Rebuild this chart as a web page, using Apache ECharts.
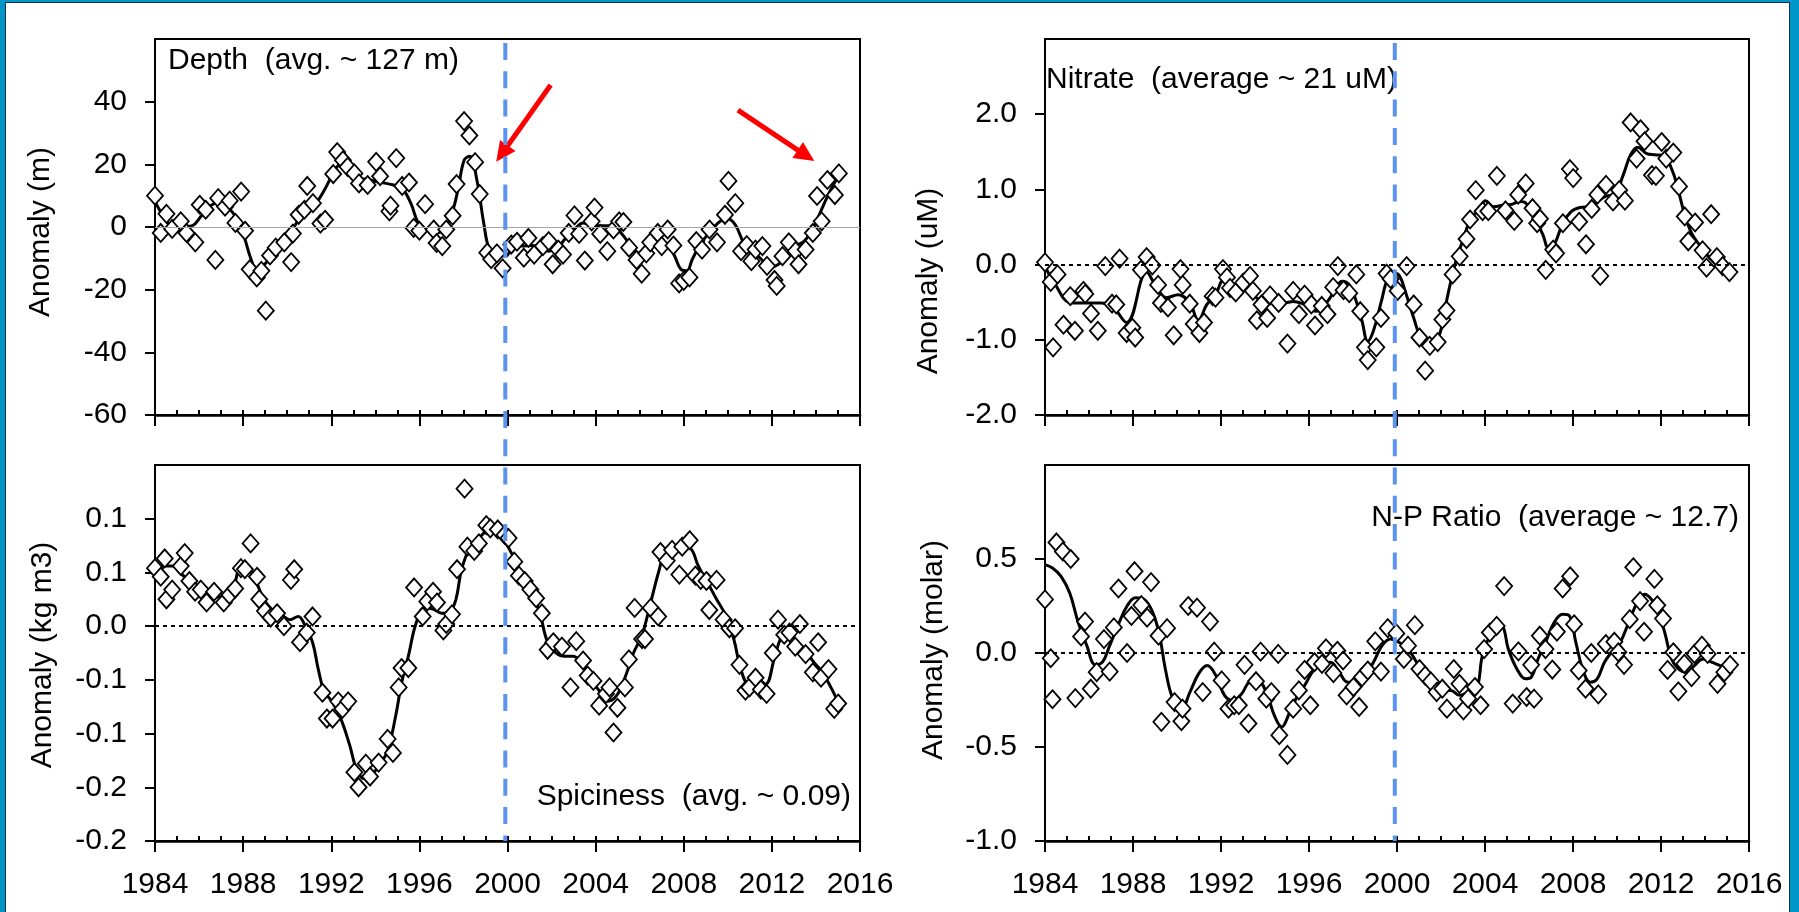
<!DOCTYPE html>
<html>
<head>
<meta charset="utf-8">
<script src="https://cdn.jsdelivr.net/npm/echarts@6/dist/echarts.min.js"></script>
<style>
  html, body { margin: 0; padding: 0; background: #fff; }
  #chart { position: absolute; left: 0; top: 0; width: 1799px; height: 912px; }
  #frame { position: absolute; left: 0; top: 0; width: 1799px; height: 912px; box-sizing: border-box;
           border-style: solid; border-color: #0096c8; border-width: 2px 9px 0 5px; pointer-events: none; }
  #frame div { position: absolute; left: 0; top: 0; right: 0; bottom: 0; border: 1px solid #17324a; border-bottom: none; }
</style>
</head>
<body>
<div id="chart"></div>
<div id="frame"><div></div></div>
<script>
// Quarterly anomalies (diamonds) and smoothed series (line), [year, anomaly]
const depthObs = [[1984.00,10.0],[1984.26,-1.9],[1984.52,4.2],[1984.78,-0.6],[1985.17,1.8],[1985.43,-1.9],[1985.83,-4.9],[1986.03,7.1],[1986.30,5.5],[1986.74,-10.5],[1986.87,9.2],[1987.18,6.5],[1987.39,8.4],[1987.65,1.3],[1987.91,11.3],[1988.09,-1.2],[1988.30,-13.5],[1988.62,-16.1],[1988.83,-14.0],[1989.03,-26.7],[1989.22,-9.1],[1989.48,-6.6],[1989.87,-4.9],[1990.18,-11.2],[1990.26,-2.1],[1990.52,3.9],[1990.78,5.5],[1990.91,13.1],[1991.17,7.6],[1991.51,1.1],[1991.72,2.3],[1992.09,16.9],[1992.27,23.9],[1992.53,21.3],[1992.74,19.2],[1993.05,17.1],[1993.26,13.9],[1993.65,13.4],[1994.04,20.8],[1994.22,16.2],[1994.64,5.0],[1994.69,6.8],[1994.95,22.0],[1995.22,13.1],[1995.53,14.2],[1995.74,-0.3],[1996.00,-1.2],[1996.26,7.3],[1996.65,-0.8],[1996.78,-5.1],[1997.04,-6.1],[1997.22,-0.8],[1997.51,3.6],[1997.69,13.7],[1998.03,33.8],[1998.27,29.2],[1998.53,20.7],[1998.74,10.5],[1999.08,-8.2],[1999.26,-10.3],[1999.52,-8.4],[1999.78,-13.2],[2000.17,-5.6],[2000.43,-4.7],[2000.74,-9.8],[2000.95,-3.5],[2001.21,-8.8],[2001.61,-6.1],[2001.87,-4.5],[2002.05,-11.9],[2002.31,-7.2],[2002.52,-8.8],[2002.78,-1.9],[2003.04,3.7],[2003.25,-2.2],[2003.51,-10.7],[2003.82,1.8],[2003.95,6.2],[2004.21,-2.2],[2004.53,-7.7],[2004.81,-0.8],[2005.07,1.8],[2005.26,1.6],[2005.52,-6.6],[2005.86,-10.5],[2006.09,-14.9],[2006.30,-8.4],[2006.48,-4.9],[2006.82,-1.9],[2007.00,-6.1],[2007.27,-0.8],[2007.53,-5.9],[2007.79,-18.0],[2008.00,-17.2],[2008.26,-16.1],[2008.57,-4.5],[2008.83,-7.2],[2009.17,-0.8],[2009.51,-4.9],[2009.87,3.9],[2010.03,14.7],[2010.34,7.6],[2010.60,-7.7],[2010.86,-5.8],[2011.07,-10.9],[2011.26,-7.2],[2011.57,-6.1],[2011.78,-12.4],[2012.12,-16.9],[2012.22,-18.8],[2012.48,-9.3],[2012.77,-4.9],[2013.08,-7.7],[2013.21,-11.9],[2013.53,-7.2],[2013.86,-1.9],[2014.05,9.9],[2014.26,1.8],[2014.52,15.0],[2014.86,10.2],[2015.04,17.1]];

const depthSmooth = [[1984.00,8.1],[1984.39,3.4],[1984.78,0.2],[1985.30,0.0],[1985.70,0.4],[1986.09,3.4],[1986.48,6.5],[1986.87,7.8],[1987.26,6.5],[1987.65,3.4],[1988.04,-3.0],[1988.36,-10.3],[1988.62,-13.5],[1988.96,-12.0],[1989.35,-8.8],[1989.74,-5.1],[1990.13,-1.9],[1990.52,2.3],[1990.91,5.5],[1991.30,7.6],[1991.69,11.8],[1992.09,17.1],[1992.48,20.5],[1992.87,17.1],[1993.26,15.5],[1993.65,15.2],[1994.04,14.5],[1994.43,14.0],[1994.82,13.4],[1995.22,12.3],[1995.61,7.6],[1995.95,1.3],[1996.31,-0.8],[1996.70,-1.9],[1997.04,-1.2],[1997.43,3.4],[1997.75,11.8],[1998.03,21.3],[1998.29,22.6],[1998.61,15.0],[1998.92,1.3],[1999.18,-7.2],[1999.52,-8.8],[1999.91,-9.3],[2000.30,-5.9],[2000.69,-6.1],[2001.08,-5.9],[2001.48,-6.6],[2001.87,-7.7],[2002.26,-6.6],[2002.65,-3.5],[2003.04,-0.8],[2003.43,1.3],[2003.82,0.5],[2004.21,0.4],[2004.60,0.4],[2005.00,-0.8],[2005.39,-4.0],[2005.78,-7.7],[2006.17,-8.8],[2006.56,-6.6],[2006.95,-5.3],[2007.34,-6.1],[2007.60,-9.5],[2007.87,-13.5],[2008.13,-14.0],[2008.39,-10.3],[2008.78,-5.1],[2009.17,-1.9],[2009.56,1.3],[2009.95,2.8],[2010.34,0.7],[2010.73,-5.1],[2011.13,-7.7],[2011.52,-10.3],[2011.91,-13.0],[2012.30,-11.9],[2012.69,-9.3],[2013.08,-6.1],[2013.47,-4.5],[2013.86,-0.8],[2014.12,3.4],[2014.52,9.7],[2014.91,15.0]];

const nitrateObs = [[1984.00,0.03],[1984.26,-0.23],[1984.37,-1.10],[1984.57,-0.13],[1984.84,-0.80],[1985.15,-0.42],[1985.36,-0.88],[1985.75,-0.35],[1985.83,-0.39],[1986.09,-0.65],[1986.40,-0.88],[1986.74,-0.02],[1987.05,-0.52],[1987.24,-0.53],[1987.39,0.08],[1987.71,-0.91],[1987.97,-0.84],[1988.10,-0.97],[1988.36,-0.07],[1988.62,0.10],[1988.88,-0.01],[1989.14,-0.27],[1989.27,-0.51],[1989.59,-0.57],[1989.85,-0.94],[1990.16,-0.06],[1990.26,-0.27],[1990.58,-0.52],[1990.76,-0.79],[1991.02,-0.91],[1991.23,-0.77],[1991.62,-0.42],[1991.75,-0.44],[1992.09,-0.06],[1992.27,-0.17],[1992.41,-0.31],[1992.67,-0.37],[1993.01,-0.24],[1993.32,-0.15],[1993.45,-0.35],[1993.63,-0.74],[1993.84,-0.53],[1994.10,-0.71],[1994.23,-0.41],[1994.62,-0.51],[1995.02,-1.05],[1995.28,-0.35],[1995.54,-0.66],[1995.80,-0.40],[1996.11,-0.53],[1996.27,-0.81],[1996.58,-0.55],[1996.84,-0.66],[1997.10,-0.30],[1997.31,-0.02],[1997.57,-0.34],[1997.83,-0.38],[1998.15,-0.13],[1998.33,-0.62],[1998.54,-1.10],[1998.67,-1.27],[1999.06,-1.10],[1999.27,-0.71],[1999.53,-0.12],[1999.71,-0.19],[2000.03,-0.35],[2000.44,-0.02],[2000.76,-0.53],[2001.02,-0.97],[2001.28,-1.41],[2001.49,-1.08],[2001.85,-1.03],[2002.06,-0.73],[2002.25,-0.61],[2002.53,-0.13],[2002.85,0.11],[2003.16,0.34],[2003.32,0.60],[2003.58,0.99],[2003.89,0.71],[2004.15,0.71],[2004.54,1.18],[2004.93,0.72],[2005.33,0.58],[2005.51,0.93],[2005.85,1.08],[2006.16,0.75],[2006.37,0.55],[2006.50,0.61],[2006.76,-0.07],[2007.10,0.20],[2007.23,0.15],[2007.54,0.55],[2007.86,1.27],[2008.01,1.15],[2008.28,0.57],[2008.59,0.27],[2008.85,0.74],[2009.11,0.93],[2009.24,-0.15],[2009.50,1.06],[2009.82,0.84],[2010.10,0.99],[2010.36,0.85],[2010.62,1.89],[2010.89,1.41],[2011.07,1.80],[2011.25,1.64],[2011.59,1.19],[2011.77,1.18],[2012.03,1.63],[2012.24,1.41],[2012.56,1.49],[2012.82,1.04],[2013.08,0.64],[2013.24,0.31],[2013.55,0.56],[2013.89,0.19],[2014.07,-0.04],[2014.28,0.67],[2014.54,0.10],[2014.80,-0.02],[2015.11,-0.10]];

const nitrateSmooth = [[1984.05,-0.05],[1984.37,-0.22],[1985.23,-0.51],[1986.53,-0.51],[1987.05,-0.55],[1987.71,-0.77],[1988.62,-0.10],[1989.01,-0.27],[1989.53,-0.44],[1990.06,-0.40],[1990.58,-0.51],[1990.97,-0.74],[1991.36,-0.53],[1991.75,-0.40],[1992.14,-0.20],[1992.54,-0.27],[1992.93,-0.31],[1993.32,-0.37],[1993.71,-0.46],[1994.10,-0.49],[1994.49,-0.44],[1994.88,-0.51],[1995.28,-0.49],[1995.80,-0.53],[1996.32,-0.62],[1996.84,-0.49],[1997.23,-0.31],[1997.50,-0.22],[1997.83,-0.27],[1998.15,-0.49],[1998.41,-0.75],[1998.67,-1.02],[1998.93,-0.88],[1999.27,-0.51],[1999.58,-0.18],[1999.84,-0.11],[2000.11,-0.15],[2000.37,-0.35],[2000.76,-0.71],[2001.15,-1.02],[2001.54,-1.10],[2001.93,-0.93],[2002.19,-0.57],[2002.45,-0.22],[2002.72,0.09],[2002.98,0.31],[2003.37,0.62],[2003.76,0.73],[2004.02,0.85],[2004.41,0.77],[2004.80,0.79],[2005.20,0.80],[2005.59,0.84],[2005.85,0.82],[2006.24,0.63],[2006.63,0.40],[2006.89,0.22],[2007.15,0.27],[2007.54,0.55],[2007.94,0.71],[2008.33,0.76],[2008.72,0.77],[2009.11,0.84],[2009.50,0.91],[2009.89,0.93],[2010.28,1.19],[2010.62,1.46],[2010.94,1.56],[2011.33,1.48],[2011.72,1.46],[2012.11,1.45],[2012.50,1.26],[2012.76,1.02],[2013.08,0.66],[2013.42,0.40],[2013.81,0.24],[2014.20,0.09],[2014.59,-0.02],[2014.98,-0.09]];

const spiceObs = [[1984.00,0.054],[1984.26,0.046],[1984.44,0.063],[1984.52,0.025],[1984.78,0.034],[1985.17,0.056],[1985.35,0.068],[1985.56,0.042],[1985.82,0.032],[1986.08,0.034],[1986.34,0.022],[1986.68,0.032],[1987.12,0.022],[1987.38,0.029],[1987.64,0.035],[1987.90,0.054],[1988.08,0.053],[1988.34,0.077],[1988.63,0.046],[1988.73,0.025],[1988.99,0.014],[1989.25,0.008],[1989.54,0.012],[1989.85,0.000],[1990.17,0.043],[1990.32,0.053],[1990.58,-0.015],[1990.89,-0.006],[1991.15,0.009],[1991.60,-0.062],[1991.80,-0.086],[1992.06,-0.086],[1992.32,-0.070],[1992.51,-0.077],[1992.77,-0.070],[1993.05,-0.136],[1993.24,-0.150],[1993.57,-0.128],[1993.76,-0.140],[1994.15,-0.127],[1994.56,-0.105],[1994.80,-0.118],[1995.06,-0.057],[1995.19,-0.039],[1995.50,-0.039],[1995.76,0.036],[1996.15,0.009],[1996.36,0.023],[1996.62,0.032],[1996.80,0.022],[1997.09,-0.004],[1997.22,0.002],[1997.48,0.011],[1997.71,0.053],[1998.05,0.128],[1998.18,0.074],[1998.49,0.070],[1998.70,0.077],[1999.04,0.094],[1999.22,0.091],[1999.56,0.090],[1999.87,0.085],[2000.05,0.082],[2000.31,0.060],[2000.52,0.047],[2000.78,0.042],[2001.04,0.034],[2001.30,0.026],[2001.56,0.012],[2001.82,-0.022],[2002.08,-0.015],[2002.47,-0.019],[2002.86,-0.057],[2003.12,-0.014],[2003.43,-0.032],[2003.64,-0.046],[2003.90,-0.051],[2004.16,-0.074],[2004.47,-0.063],[2004.63,-0.057],[2004.81,-0.099],[2004.99,-0.076],[2005.33,-0.057],[2005.51,-0.031],[2005.77,0.017],[2006.11,-0.012],[2006.24,-0.012],[2006.50,0.017],[2006.84,0.009],[2006.94,0.069],[2007.23,0.061],[2007.47,0.071],[2007.80,0.048],[2007.93,0.074],[2008.27,0.080],[2008.53,0.047],[2008.77,0.043],[2009.03,0.042],[2009.16,0.015],[2009.49,0.043],[2009.81,0.006],[2010.07,-0.002],[2010.33,-0.002],[2010.53,-0.036],[2010.80,-0.060],[2010.98,-0.057],[2011.26,-0.048],[2011.50,-0.059],[2011.76,-0.063],[2012.04,-0.025],[2012.28,0.006],[2012.56,-0.008],[2012.80,-0.006],[2013.06,-0.019],[2013.27,0.002],[2013.53,-0.026],[2013.86,-0.043],[2014.10,-0.015],[2014.23,-0.048],[2014.57,-0.040],[2014.83,-0.077],[2015.01,-0.072]];

const spiceSmooth = [[1984.00,0.053],[1984.39,0.056],[1984.78,0.056],[1985.17,0.049],[1985.56,0.042],[1985.95,0.034],[1986.34,0.028],[1986.73,0.027],[1987.12,0.028],[1987.51,0.034],[1987.90,0.054],[1988.16,0.054],[1988.55,0.043],[1988.94,0.025],[1989.33,0.015],[1989.72,0.011],[1990.11,0.006],[1990.50,0.009],[1990.82,0.000],[1991.15,-0.015],[1991.41,-0.040],[1991.67,-0.060],[1992.06,-0.071],[1992.45,-0.087],[1992.84,-0.111],[1993.16,-0.134],[1993.50,-0.142],[1993.83,-0.139],[1994.15,-0.130],[1994.54,-0.117],[1994.93,-0.083],[1995.19,-0.053],[1995.50,-0.028],[1995.84,0.002],[1996.23,0.017],[1996.62,0.016],[1997.01,0.012],[1997.40,0.014],[1997.66,0.025],[1997.92,0.053],[1998.31,0.074],[1998.70,0.082],[1999.09,0.088],[1999.48,0.088],[1999.87,0.079],[2000.26,0.065],[2000.65,0.046],[2001.04,0.032],[2001.43,0.015],[2001.82,-0.015],[2002.21,-0.025],[2002.60,-0.028],[2002.99,-0.028],[2003.38,-0.036],[2003.77,-0.049],[2004.16,-0.060],[2004.55,-0.070],[2004.94,-0.065],[2005.33,-0.048],[2005.72,-0.025],[2006.11,-0.008],[2006.50,0.022],[2006.84,0.049],[2007.15,0.068],[2007.54,0.073],[2007.93,0.074],[2008.32,0.072],[2008.66,0.056],[2009.10,0.040],[2009.49,0.025],[2009.88,0.011],[2010.27,-0.012],[2010.59,-0.040],[2010.93,-0.053],[2011.32,-0.049],[2011.71,-0.054],[2012.10,-0.031],[2012.41,-0.011],[2012.75,-0.005],[2013.14,-0.015],[2013.53,-0.023],[2013.92,-0.034],[2014.29,-0.043],[2014.68,-0.057],[2015.01,-0.071]];

const npObs = [[1984.00,0.285],[1984.26,-0.028],[1984.34,-0.246],[1984.52,0.588],[1984.81,0.540],[1985.17,0.500],[1985.38,-0.240],[1985.64,0.088],[1985.82,0.167],[1986.08,-0.190],[1986.35,-0.102],[1986.68,0.074],[1986.94,-0.099],[1987.13,0.136],[1987.34,0.343],[1987.73,0.000],[1987.93,0.197],[1988.07,0.435],[1988.38,0.255],[1988.64,0.188],[1988.82,0.377],[1989.16,0.092],[1989.29,-0.366],[1989.55,0.132],[1989.89,-0.261],[1990.20,-0.363],[1990.25,-0.296],[1990.51,0.250],[1990.91,0.241],[1991.17,-0.208],[1991.50,0.167],[1991.69,0.007],[1992.03,-0.146],[1992.34,-0.296],[1992.60,-0.278],[1992.81,-0.278],[1993.07,-0.063],[1993.25,-0.375],[1993.59,-0.150],[1993.80,0.007],[1994.06,-0.243],[1994.29,-0.208],[1994.60,-0.005],[1994.65,-0.437],[1995.02,-0.542],[1995.28,-0.296],[1995.54,-0.199],[1995.80,-0.090],[1996.06,-0.278],[1996.25,-0.049],[1996.59,-0.058],[1996.77,0.025],[1997.11,-0.107],[1997.29,0.012],[1997.55,-0.040],[1997.71,-0.225],[1998.02,-0.181],[1998.28,-0.287],[1998.41,-0.128],[1998.67,-0.093],[1999.01,0.062],[1999.27,-0.099],[1999.58,0.132],[1999.97,0.104],[2000.31,-0.032],[2000.50,0.039],[2000.81,0.148],[2001.02,-0.085],[2001.28,-0.120],[2001.54,-0.151],[2001.80,-0.208],[2002.06,-0.190],[2002.27,-0.296],[2002.58,-0.085],[2002.84,-0.164],[2003.02,-0.305],[2003.23,-0.243],[2003.54,-0.181],[2003.80,-0.278],[2003.96,0.021],[2004.22,0.109],[2004.53,0.144],[2004.87,0.356],[2005.26,-0.269],[2005.52,0.009],[2005.89,-0.234],[2006.10,-0.063],[2006.23,-0.243],[2006.49,0.092],[2006.75,0.021],[2007.06,-0.088],[2007.27,0.113],[2007.53,0.343],[2007.87,0.408],[2008.05,0.153],[2008.26,-0.093],[2008.57,-0.190],[2008.83,0.000],[2009.15,-0.220],[2009.49,0.048],[2009.88,0.060],[2010.06,0.004],[2010.32,-0.063],[2010.58,0.180],[2010.74,0.456],[2011.05,0.276],[2011.23,0.113],[2011.70,0.394],[2011.83,0.254],[2012.09,0.183],[2012.30,-0.090],[2012.56,0.004],[2012.79,-0.204],[2013.06,-0.058],[2013.39,-0.128],[2013.52,-0.005],[2013.86,0.039],[2014.12,-0.005],[2014.57,-0.164],[2014.88,-0.102],[2015.14,-0.063]];

const npSmooth = [[1984.00,0.470],[1984.34,0.452],[1984.73,0.408],[1985.12,0.320],[1985.51,0.162],[1985.90,0.039],[1986.29,-0.062],[1986.61,-0.049],[1986.94,0.039],[1987.34,0.153],[1987.73,0.250],[1988.12,0.294],[1988.51,0.285],[1988.90,0.215],[1989.21,0.092],[1989.47,-0.085],[1989.81,-0.243],[1990.20,-0.296],[1990.59,-0.208],[1990.98,-0.111],[1991.37,-0.067],[1991.77,-0.120],[1992.16,-0.225],[1992.55,-0.252],[1992.94,-0.217],[1993.33,-0.155],[1993.72,-0.155],[1994.11,-0.225],[1994.42,-0.331],[1994.76,-0.393],[1995.10,-0.322],[1995.41,-0.243],[1995.80,-0.173],[1996.20,-0.093],[1996.59,-0.058],[1996.98,-0.049],[1997.37,-0.102],[1997.76,-0.155],[1998.15,-0.155],[1998.54,-0.120],[1998.93,-0.049],[1999.32,0.039],[1999.71,0.074],[2000.10,0.056],[2000.50,0.021],[2000.89,-0.049],[2001.28,-0.120],[2001.67,-0.173],[2002.06,-0.199],[2002.45,-0.199],[2002.84,-0.225],[2003.23,-0.208],[2003.62,-0.190],[2003.88,-0.014],[2004.22,0.092],[2004.53,0.153],[2004.80,0.144],[2005.06,0.021],[2005.45,-0.085],[2005.84,-0.137],[2006.10,-0.129],[2006.41,-0.032],[2006.75,0.056],[2007.14,0.162],[2007.53,0.206],[2007.84,0.197],[2008.13,0.056],[2008.44,-0.085],[2008.78,-0.155],[2009.10,-0.137],[2009.43,-0.049],[2009.75,0.004],[2010.14,0.056],[2010.53,0.162],[2010.92,0.268],[2011.26,0.312],[2011.57,0.285],[2011.83,0.232],[2012.17,0.109],[2012.48,-0.032],[2012.79,-0.085],[2013.13,-0.102],[2013.52,-0.067],[2013.91,-0.032],[2014.30,-0.049],[2014.69,-0.067],[2015.09,-0.085]];

// Panel captions and y-axis names
const panelTitles = ['Depth  (avg. ~ 127 m)', 'Nitrate  (average ~ 21 uM)', 'Spiciness  (avg. ~ 0.09)', 'N-P Ratio  (average ~ 12.7)'];
const yNames = ['Anomaly (m)', 'Anomaly (uM)', 'Anomaly (kg m3)', 'Anomaly (molar)'];
// Year of the regime-shift marker
const dividerYear = 1999.9;
// Red arrows on the depth panel: [from, to] in [year, anomaly]
const depthArrows = [[[2001.96, 45.3], [1999.75, 23.4]], [[2010.46, 37.3], [2013.55, 22.8]]];

const FONT = '"Liberation Sans", Arial, sans-serif';

const panels = [
  { obs: depthObs,   smooth: depthSmooth,   min: -60, max: 60,   step: 20,   ticks: [-60,-40,-20,0,20,40],                     dec: 0, zero: 'gray',   xlabels: false },
  { obs: nitrateObs, smooth: nitrateSmooth, min: -2,  max: 3,    step: 1,    ticks: [-2,-1,0,1,2],                             dec: 1, zero: 'dotted', xlabels: false },
  { obs: spiceObs,   smooth: spiceSmooth,   min: -0.2, max: 0.15, step: 0.05, ticks: [-0.2,-0.15,-0.1,-0.05,0,0.05,0.1],       dec: 1, zero: 'dotted', xlabels: true },
  { obs: npObs,      smooth: npSmooth,      min: -1,  max: 1,    step: 0.5,  ticks: [-1,-0.5,0,0.5],                           dec: 1, zero: 'dotted', xlabels: true }
];

const grids = [
  { left: 155,  top: 39,  width: 705, height: 376 },
  { left: 1045, top: 39,  width: 704, height: 376 },
  { left: 155,  top: 465, width: 705, height: 376 },
  { left: 1045, top: 465, width: 704, height: 376 }
];

function fmt(v, dec, max) {
  if (Math.abs(v - max) < 1e-9) return '';
  const p = Math.pow(10, dec);
  const r = Math.sign(v) * Math.round(Math.abs(v) * p + 1e-6) / p;
  return (r === 0 ? 0 : r).toFixed(dec);
}

const xAxes = [], yAxes = [], series = [];
panels.forEach((p, i) => {
  xAxes.push({
    type: 'value', gridIndex: i, min: 1984, max: 2016, interval: 4, position: 'bottom',
    axisLine: { show: true, onZero: false, lineStyle: { color: '#000', width: 2.5 } },
    axisTick: { show: true, inside: false, length: 11, lineStyle: { color: '#000', width: 2 } },
    axisLabel: { show: p.xlabels, margin: 29, fontSize: 30, color: '#000', fontFamily: FONT, formatter: v => String(v) },
    splitLine: { show: false }
  });
  xAxes.push({
    type: 'value', gridIndex: i, min: 1984, max: 2016, interval: 1, position: 'bottom',
    axisLine: { show: false, onZero: false },
    axisTick: { show: true, inside: true, length: 5, lineStyle: { color: '#000', width: 2 } },
    axisLabel: { show: false },
    splitLine: { show: false }
  });
  yAxes.push({
    type: 'value', gridIndex: i, min: p.min, max: p.max, interval: p.step,
    axisLine: { show: true, onZero: false, lineStyle: { color: '#000', width: 2 } },
    axisTick: { show: true, length: 10, customValues: p.ticks, lineStyle: { color: '#000', width: 2 } },
    axisLabel: { margin: 28, fontSize: 30, color: '#000', fontFamily: FONT, formatter: v => fmt(v, p.dec, p.max) },
    splitLine: { show: false }
  });
  const zeroStyle = p.zero === 'gray'
    ? { color: '#a6a6a6', width: 1.2, type: 'solid' }
    : { color: '#000', width: 2, type: [4, 4] };
  series.push({
    type: 'line', xAxisIndex: 2 * i, yAxisIndex: i, data: p.smooth,
    showSymbol: false, symbol: 'none', smooth: 0.4, z: 2,
    lineStyle: { color: '#000', width: 3 },
    markLine: { silent: true, symbol: ['none', 'none'], label: { show: false },
      lineStyle: zeroStyle, data: [{ yAxis: 0 }] }
  });
  series.push({
    type: 'scatter', xAxisIndex: 2 * i, yAxisIndex: i, data: p.obs, z: 3,
    symbol: 'diamond', symbolSize: [16, 18],
    itemStyle: { color: '#fff', borderColor: '#000', borderWidth: 1.8, opacity: 1 }
  });
});

// arrows highlighting the depth panel
series.push({
  type: 'line', xAxisIndex: 0, yAxisIndex: 0, data: [], z: 6,
  markLine: {
    silent: true, label: { show: false },
    lineStyle: { color: '#ff0000', width: 5, type: 'solid', opacity: 1 },
    data: depthArrows.map(a => [
      { coord: a[0], symbol: 'none' },
      { coord: a[1], symbol: 'triangle', symbolSize: [19, 20] }
    ])
  }
});

const chart = echarts.init(document.getElementById('chart'), null, { renderer: 'canvas' });
chart.setOption({
  animation: false,
  backgroundColor: '#fff',
  grid: grids.map(g => Object.assign({ show: true, borderColor: '#000', borderWidth: 2, backgroundColor: 'transparent', containLabel: false }, g)),
  xAxis: xAxes,
  yAxis: yAxes,
  series: series
});

// captions, axis names and the dashed divider that runs through both panel rows
const textStyle = (extra) => Object.assign({ fontSize: 30, fontFamily: FONT, fill: '#000' }, extra);
const graphics = [
  { type: 'text', x: 168,  y: 61,  z: 10, style: textStyle({ text: panelTitles[0], textAlign: 'left',  textVerticalAlign: 'middle' }) },
  { type: 'text', x: 1046, y: 80,  z: 10, style: textStyle({ text: panelTitles[1], textAlign: 'left',  textVerticalAlign: 'middle' }) },
  { type: 'text', x: 851,  y: 797, z: 10, style: textStyle({ text: panelTitles[2], textAlign: 'right', textVerticalAlign: 'middle' }) },
  { type: 'text', x: 1739, y: 518, z: 10, style: textStyle({ text: panelTitles[3], textAlign: 'right', textVerticalAlign: 'middle' }) },
  { type: 'text', x: 41,  y: 232, rotation: Math.PI / 2, z: 10, style: textStyle({ text: yNames[0], textAlign: 'center', textVerticalAlign: 'middle' }) },
  { type: 'text', x: 929, y: 281, rotation: Math.PI / 2, z: 10, style: textStyle({ text: yNames[1], textAlign: 'center', textVerticalAlign: 'middle' }) },
  { type: 'text', x: 43,  y: 655, rotation: Math.PI / 2, z: 10, style: textStyle({ text: yNames[2], textAlign: 'center', textVerticalAlign: 'middle' }) },
  { type: 'text', x: 934, y: 650, rotation: Math.PI / 2, z: 10, style: textStyle({ text: yNames[3], textAlign: 'center', textVerticalAlign: 'middle' }) }
];
[[0, 2], [1, 3]].forEach(([topIdx, botIdx]) => {
  const pTop = chart.convertToPixel({ xAxisIndex: 2 * topIdx, yAxisIndex: topIdx }, [dividerYear, panels[topIdx].max]);
  const pBot = chart.convertToPixel({ xAxisIndex: 2 * botIdx, yAxisIndex: botIdx }, [dividerYear, panels[botIdx].min]);
  graphics.push({
    type: 'line', z: 20, silent: true,
    shape: { x1: pTop[0], y1: pTop[1], x2: pBot[0], y2: pBot[1] },
    style: { stroke: '#5b93f0', lineWidth: 4, lineDash: [17, 11.3], lineDashOffset: -4 }
  });
});
chart.setOption({ graphic: graphics });
</script>
</body>
</html>
